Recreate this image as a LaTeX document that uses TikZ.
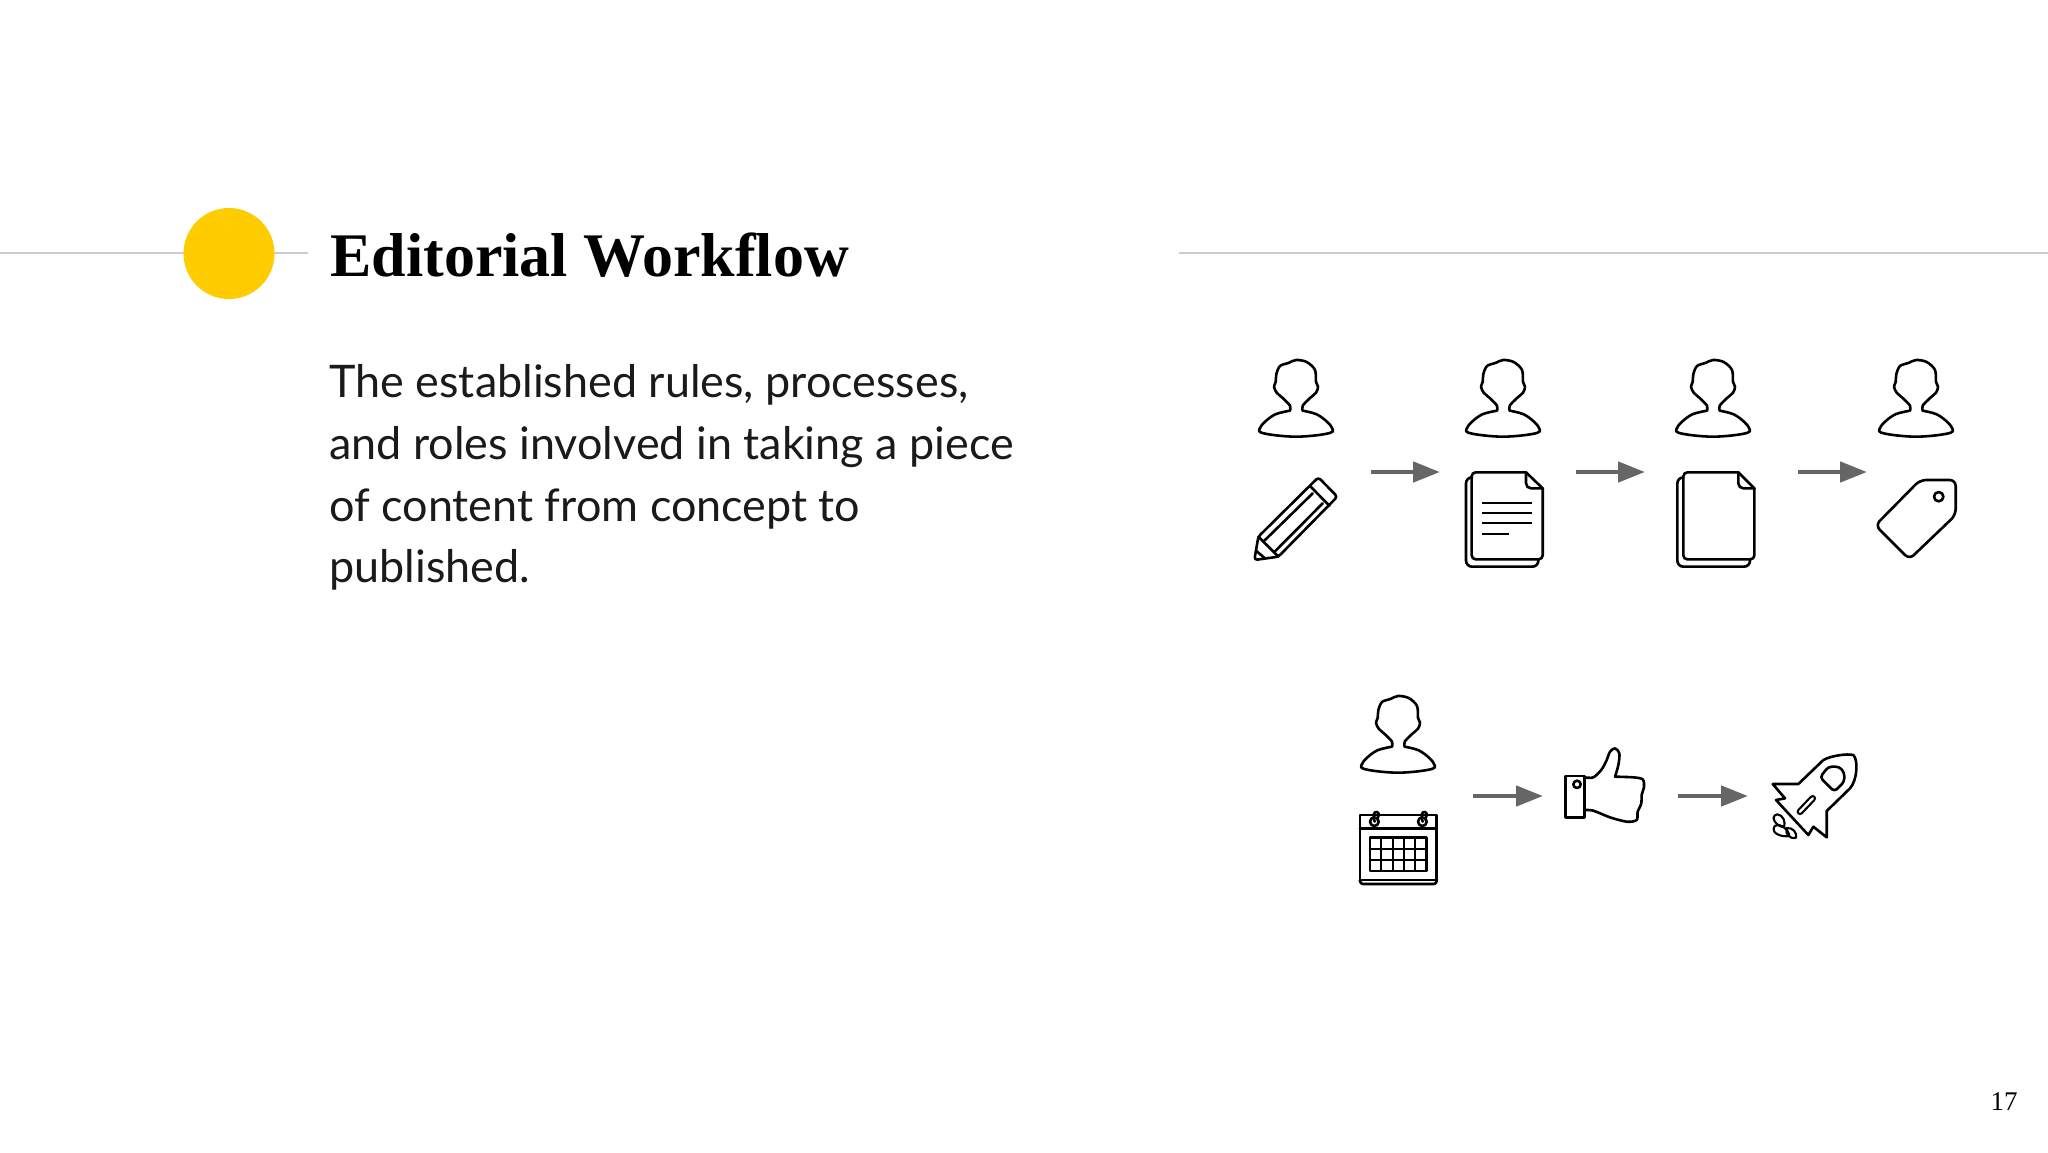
\documentclass[tikz,border=0pt]{standalone}
\usepackage{fontspec}
\setmainfont{Liberation Serif}
\newfontfamily\bodyfont{Lato}
\usetikzlibrary{arrows.meta}
\definecolor{sun}{HTML}{FFCC00}
\definecolor{rule}{HTML}{CCCCCC}
\definecolor{arrowgray}{HTML}{666666}
\definecolor{ink}{HTML}{1A1A1A}
\tikzset{
  zoomunits/.style={x=0.16667pt,y=-0.16667pt},
  icon/.style={draw=black,line width=1.3pt,line join=round,line cap=round},
  flameicon/.style={draw=black,line width=1.05pt,line join=round,line cap=round},
  thinicon/.style={draw=black,line width=1.1pt,line cap=butt},
  flow/.style={draw=arrowgray,line width=2.3pt,-{Triangle[length=13.5pt,width=10pt]}},
  headrule/.style={draw=rule,line width=1.2pt},
  person/.pic={
    \draw[icon] plot[smooth,tension=0.55] coordinates {(-18,152) (-18,137) (-40,114) (-58,98) (-66,80) (-61,66) (-59,42) (-48,18) (-23,9) (0,0) (32,6) (57,30) (60,66) (66,80) (60,98) (42,114) (20,137) (20,152)}
      -- plot[smooth,tension=0.6] coordinates {(20,152) (62,163) (95,187) (110,208) (104,218) (60,226) (0,230) (-60,226) (-104,218) (-110,208) (-95,187) (-62,163) (-18,152)} -- cycle;
  }
}
\begin{document}
\begin{tikzpicture}[x=0.5pt,y=-0.5pt]
\useasboundingbox (0,0) rectangle (2048,1152);
\fill[white] (0,0) rectangle (2048,1152);

% header
\coordinate (ruleLA) at (0,253);
\coordinate (ruleLB) at (308,253);
\coordinate (ruleRA) at (1179,253);
\coordinate (ruleRB) at (2048,253);
\draw[headrule] (ruleLA) -- (ruleLB);
\draw[headrule] (ruleRA) -- (ruleRB);
\fill[sun] (229,253.5) circle[radius=45.5];
\node[anchor=base west,inner sep=0pt,font=\fontsize{31}{36}\selectfont\bfseries] (title) at (330,276) {Editorial Workflow};
\node[anchor=north west,inner sep=0pt,align=left,text=ink,font=\bodyfont\fontsize{22.45}{30.9}\selectfont] (body) at (329,364)
  {The established rules, processes,\\and roles involved in taking a piece\\of content from concept to\\published.};
\node[anchor=base east,inner sep=0pt,font=\fontsize{13.5}{16}\selectfont] (pageno) at (2018,1110) {17};

% people
\coordinate (p1) at (1296,360);
\coordinate (p2) at (1503,360);
\coordinate (p3) at (1713,360);
\coordinate (p4) at (1916,360);
\coordinate (p5) at (1398,696);
\foreach \c in {p1,p2,p3,p4,p5} {\pic[zoomunits] at (\c) {person};}

% pencil and document
\begin{scope}[shift={(1230,340)},zoomunits]
  \draw[icon,rounded corners=1.5pt] (73,660) -- (85,590) -- (265,412) -- (322,470) -- (145,650) -- cycle;
  \draw[icon] (240,438) -- (298,497);
  \draw[icon] (85,590) -- (145,650);
  \draw[icon] (248,460) -- (103,602);
  \draw[icon] (278,490) -- (133,636);
  \draw[icon] (78,632) -- (105,655);
  \draw[icon,rounded corners=3pt] (722,412) -- (708,412) -- (708,680) -- (925,680) -- (925,658);
  \draw[icon,rounded corners=2pt] (888,397) -- (725,397) -- (725,658) -- (938,658) -- (938,445);
  \draw[icon] (888,397) -- (938,445);
  \draw[icon,rounded corners=2.5pt] (888,397) -- (888,445) -- (938,445);
  \draw[thinicon] (757,488) -- (906,488);
  \draw[thinicon] (757,519) -- (906,519);
  \draw[thinicon] (757,550) -- (906,550);
  \draw[thinicon] (757,581) -- (837,581);
\end{scope}

% blank document and tag
\begin{scope}[shift={(1570,340)},zoomunits]
  \draw[icon,rounded corners=3pt] (338,412) -- (322,412) -- (322,680) -- (540,680) -- (540,658);
  \draw[icon,rounded corners=2pt] (505,397) -- (340,397) -- (340,658) -- (553,658) -- (553,445);
  \draw[icon] (505,397) -- (553,445);
  \draw[icon,rounded corners=2.5pt] (505,397) -- (505,445) -- (553,445);
  \draw[icon,rounded corners=3pt] (1050,420) -- (1157,420) -- (1157,525) -- (1018,658) -- (916,556) -- cycle;
  \draw[icon] (1106,470) circle[radius=14];
\end{scope}

% calendar and thumb
\begin{scope}[shift={(1340,680)},zoomunits]
  \draw[icon] (60,405) rectangle (290,600);
  \draw[icon,rounded corners=1.5pt] (60,600) -- (60,612) -- (290,612) -- (290,600);
  \draw[icon] (60,445) -- (290,445);
  \foreach \x in {103,247} {
    \draw[icon,fill=white] (\x,425) circle[radius=13];
    \draw[icon] (\x+1,425) .. controls (\x-6,405) and (\x,393) .. (\x+8,396) .. controls (\x+17,398) and (\x+12,412) .. (\x+8,418);
  }
  \draw[icon] (90,473) rectangle (260,573);
  \foreach \x in {124,158,192,226} {\draw[thinicon] (\x,473) -- (\x,573);}
  \foreach \y in {506,540} {\draw[thinicon] (90,\y) -- (260,\y);}
  \draw[icon] (677,288) rectangle (734,412);
  \draw[icon] (711,313) circle[radius=11];
  \draw[icon] plot[smooth,tension=0.5] coordinates {(734,292) (760,292) (785,268) (800,240) (810,215) (825,205) (838,220) (835,255) (825,290)}
    -- plot[smooth,tension=0.5] coordinates {(825,290) (880,292) (908,298) (912,320) (905,345) (904,370) (893,395) (890,420) (860,425) (810,412) (760,392) (734,390)};
\end{scope}

% rocket
\begin{scope}[shift={(1650,730)},zoomunits]
  \draw[icon] (368,162) -- (445,162) -- (520,90) .. controls (540,78) and (590,70) .. (610,75) .. controls (625,90) and (622,150) .. (600,175) -- (530,243) -- (530,322) -- (490,290) -- (475,315) -- (378,210) -- (405,205) -- cycle;
  \draw[icon,rounded corners=1.8pt] (510,142) -- (535,110) -- (568,110) -- (583,128) -- (583,155) -- (553,185) -- cycle;
  \draw[draw=black,line width=3.4pt,line cap=round] (450,245) -- (488,205);
  \draw[draw=white,line width=1.2pt,line cap=round] (450,245) -- (488,205);
  \draw[flameicon] (402,292) .. controls (376,288) and (358,258) .. (382,253) .. controls (398,254) and (408,275) .. (402,292);
  \draw[flameicon] (418,318) .. controls (395,322) and (360,310) .. (374,288) .. controls (392,278) and (416,298) .. (418,318);
  \draw[flameicon] (438,323) .. controls (418,328) and (405,312) .. (410,294) .. controls (428,292) and (442,308) .. (438,323);
\end{scope}

% connectors
\coordinate (a1s) at (1371,472); \coordinate (a1e) at (1440,472);
\coordinate (a2s) at (1576,472); \coordinate (a2e) at (1645,472);
\coordinate (a3s) at (1798,472); \coordinate (a3e) at (1867,472);
\coordinate (a4s) at (1473,796); \coordinate (a4e) at (1543,796);
\coordinate (a5s) at (1678,796); \coordinate (a5e) at (1748,796);
\draw[flow] (a1s) -- (a1e);
\draw[flow] (a2s) -- (a2e);
\draw[flow] (a3s) -- (a3e);
\draw[flow] (a4s) -- (a4e);
\draw[flow] (a5s) -- (a5e);
\end{tikzpicture}
\end{document}
